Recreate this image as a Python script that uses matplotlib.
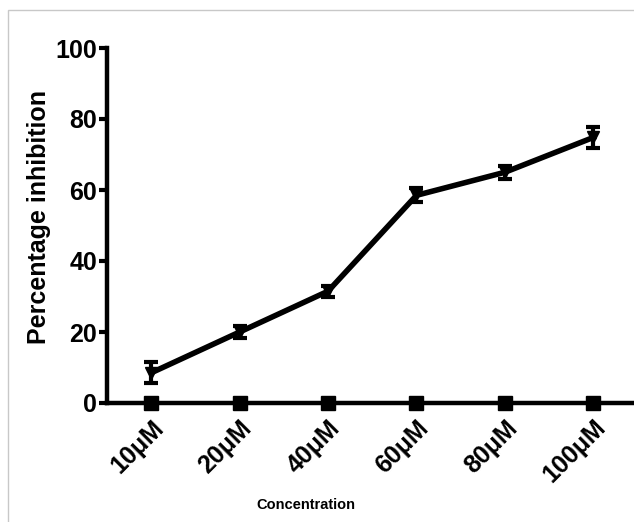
import matplotlib
matplotlib.use("Agg")
import matplotlib.pyplot as plt
from matplotlib.patches import Rectangle

categories = ["10μM", "20μM", "40μM", "60μM", "80μM", "100μM"]
inhibition = [8.5, 20.0, 31.5, 58.5, 65.0, 74.8]
errors = [3.0, 1.8, 1.5, 2.0, 1.8, 3.0]
control = [0, 0, 0, 0, 0, 0]
y_ticks = [0, 20, 40, 60, 80, 100]

plt.rcParams['font.family'] = ['Liberation Sans', 'DejaVu Sans']

fig = plt.figure(figsize=(6.34, 5.22), dpi=100)
fig.patches.append(Rectangle((8/634, -0.1), 1.2, (522-10)/522 + 0.1, transform=fig.transFigure,
                             fill=False, edgecolor='#c8c8c8', linewidth=1.0))
ax = fig.add_axes([107/634, (522-403)/522, 1 - 107/634, (403-48)/522])

x = list(range(len(categories)))
ax.errorbar(x, inhibition, yerr=errors, color='black', linewidth=4, marker='v',
            markersize=9, capsize=5, capthick=3, elinewidth=3, zorder=3, clip_on=False)
ax.plot(x, control, color='black', marker='s', markersize=9.5, linestyle='none',
        zorder=4, clip_on=False)

ax.set_xlim(-0.5, 5.46)
ax.set_ylim(0, 100)
ax.set_yticks(y_ticks)
ax.set_xticks(x)
ax.set_xticklabels(categories, rotation=45, ha='right', rotation_mode='anchor',
                   fontsize=18, fontweight='bold')
for lbl in ax.get_yticklabels():
    lbl.set_fontweight('bold')
    lbl.set_fontsize(18)

for s in ['top', 'right']:
    ax.spines[s].set_visible(False)
for s in ['left', 'bottom']:
    ax.spines[s].set_linewidth(3.2)
ax.tick_params(axis='y', length=6, width=3, pad=1)
ax.tick_params(axis='x', length=0, pad=9)

ax.set_ylabel("Percentage inhibition", fontsize=18, fontweight='bold')
ax.yaxis.set_label_coords(-0.106, 0.525)
fig.text(306/634, (522-505)/522, "Concentration", fontsize=10.5,
         fontweight='bold', ha='center', va='center')

fig.savefig("out.png", dpi=100)
